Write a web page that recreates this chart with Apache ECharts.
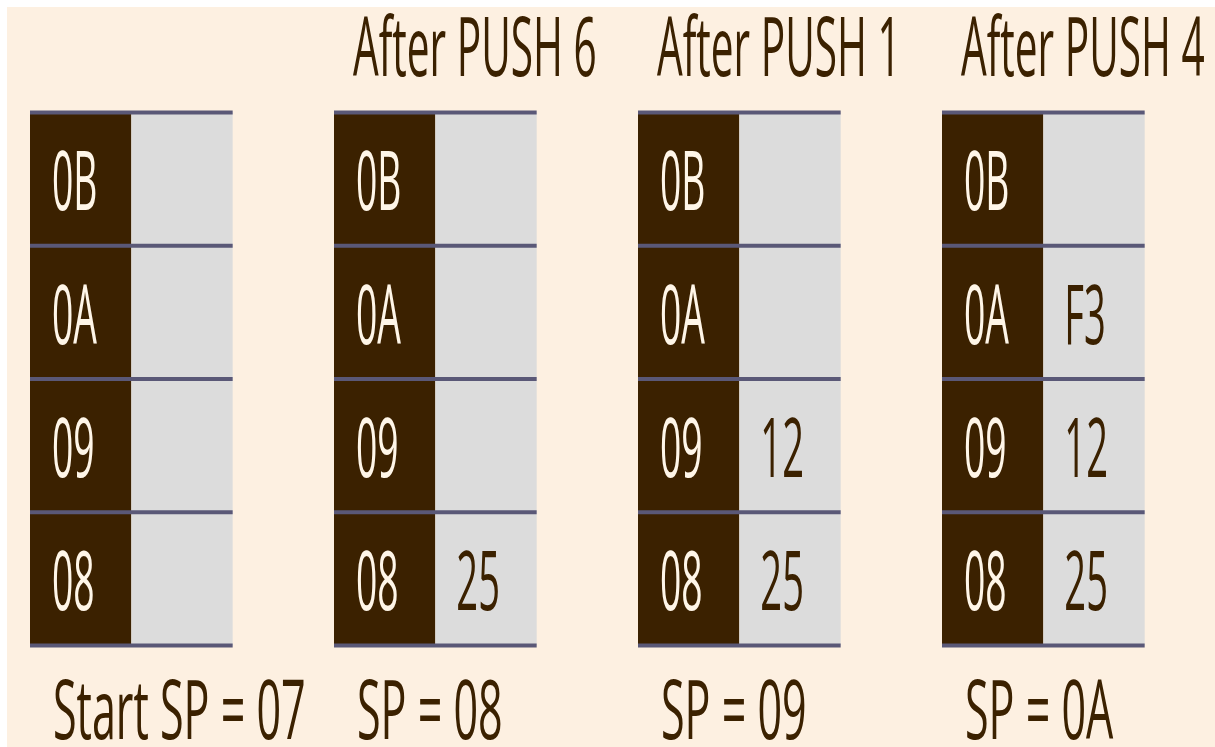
<!DOCTYPE html>
<html>
<head>
<meta charset="utf-8">
<script src="https://cdn.jsdelivr.net/npm/echarts@6/dist/echarts.min.js"></script>
<style>
  html, body { margin: 0; padding: 0; background: #ffffff; }
  #bg { position: absolute; left: 7px; top: 7px; width: 1208px; height: 740px; background: #fdf0e1; }
  #chart { position: absolute; left: 0; top: 0; width: 1215px; height: 747px; }
</style>
</head>
<body>
<div id="bg"></div>
<div id="chart"></div>
<script>
// ---- data ----
const stackNames = ['Start', 'After PUSH 6', 'After PUSH 1', 'After PUSH 4'];
const titles = ['', 'After PUSH 6', 'After PUSH 1', 'After PUSH 4'];
const addresses = ['08', '09', '0A', '0B'];          // bottom -> top
const contentsStart = ['', '', '', ''];
const contentsPush6 = ['25', '', '', ''];
const contentsPush1 = ['25', '12', '', ''];
const contentsPush4 = ['25', '12', 'F3', ''];
const spLabels = ['Start SP = 07', 'SP = 08', 'SP = 09', 'SP = 0A'];

const contents = [contentsStart, contentsPush6, contentsPush1, contentsPush4];

// build custom-series data: [stackIndex, rowIndex, address, content]
const cellData = [];
stackNames.forEach(function (s, si) {
  addresses.forEach(function (a, ri) {
    cellData.push([si, ri, a, contents[si][ri]]);
  });
});

const BROWN = '#3b2100';
const GRAY = '#dcdcdc';
const LINE = '#5a5877';
const CREAM = '#fff6e8';
const FONT_FAMILY = '"Open Sans", "Noto Sans", sans-serif';

function txt(str, x, y, fill, sx) {
  return {
    type: 'text',
    x: x, y: y,
    scaleX: sx,
    style: {
      text: str, x: 0, y: 0,
      fill: fill,
      font: '500 82px ' + FONT_FAMILY,
      textAlign: 'left',
      textVerticalAlign: 'middle'
    }
  };
}

function renderItem(params, api) {
  const si = api.value(0);
  const ri = api.value(1);
  const addr = cellData[params.dataIndex][2];
  const cont = cellData[params.dataIndex][3];
  const pTL = api.coord([si * 3, ri + 1]);
  const pM = api.coord([si * 3 + 1, ri]);
  const pR = api.coord([si * 3 + 2, ri]);
  const left = pTL[0], top = pTL[1], mid = pM[0], right = pR[0], bottom = pM[1];
  const cy = (top + bottom) / 2 + 8;
  const children = [
    { type: 'rect', shape: { x: left, y: top, width: mid - left, height: bottom - top }, style: { fill: BROWN } },
    { type: 'rect', shape: { x: mid, y: top, width: right - mid, height: bottom - top }, style: { fill: GRAY } },
    { type: 'rect', shape: { x: left, y: bottom - 2, width: right - left, height: 4 }, style: { fill: LINE } }
  ];
  if (ri === addresses.length - 1) {
    children.push({ type: 'rect', shape: { x: left, y: top - 2, width: right - left, height: 4 }, style: { fill: LINE } });
    if (titles[si]) children.push(txt(titles[si], left + 19, top - 60, BROWN, 0.495));
  }
  if (ri === 0) {
    children.push(txt(spLabels[si], left + 23, bottom + 70, BROWN, 0.525));
  }
  children.push(txt(addr, left + 22, cy, CREAM, 0.455));
  if (cont) children.push(txt(cont, mid + 21, cy, BROWN, 0.465));
  return { type: 'group', children: children };
}

const chart = echarts.init(document.getElementById('chart'), null, { renderer: 'canvas' });
chart.setOption({
  backgroundColor: 'transparent',
  animation: false,
  grid: { left: 30, top: 112.5, width: 1114.67, height: 533 },
  xAxis: { type: 'value', min: 0, max: 11, show: false },
  yAxis: { type: 'value', min: 0, max: 4, show: false },
  series: [{
    type: 'custom',
    renderItem: renderItem,
    data: cellData.map(function (d) { return [d[0], d[1]]; }),
    clip: false
  }]
});
</script>
</body>
</html>
